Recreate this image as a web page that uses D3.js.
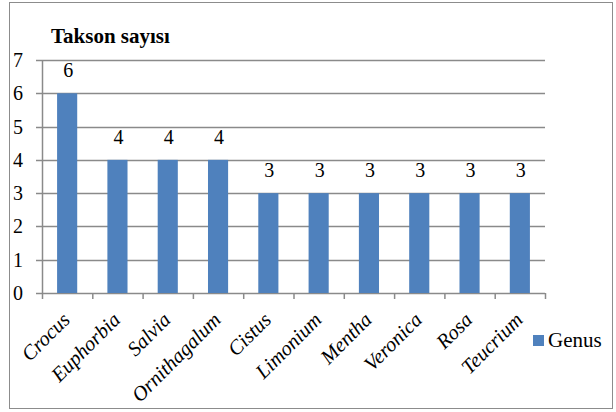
<!DOCTYPE html>
<html>
<head>
<meta charset="utf-8">
<script src="https://cdn.jsdelivr.net/npm/d3@7"></script>
<style>
  body { margin: 0; background: #fff; }
</style>
</head>
<body>
<svg width="616" height="412"></svg>
<script>
var categories = ["Crocus", "Euphorbia", "Salvia", "Ornithagalum", "Cistus",
                  "Limonium", "Mentha", "Veronica", "Rosa", "Teucrium"];
var values = [6, 4, 4, 4, 3, 3, 3, 3, 3, 3];
var yTicks = [0, 1, 2, 3, 4, 5, 6, 7];

var serif = "Liberation Serif";
var svg = d3.select("svg");

// outer frame
svg.append("rect")
  .attr("x", 9.5).attr("y", 2.5)
  .attr("width", 603).attr("height", 406)
  .attr("fill", "none")
  .attr("stroke", "#8c8c8c");

var x = d3.scaleBand()
  .domain(categories)
  .range([42, 545])
  .paddingInner(0.6)
  .paddingOuter(0.3);

var xb = d3.scaleBand().domain(categories).range([42, 545]);

var y = d3.scaleLinear()
  .domain([0, 7])
  .range([293, 60]);

// gridlines
svg.append("g").selectAll("line")
  .data(yTicks)
  .enter().append("line")
  .attr("x1", 36).attr("x2", 545)
  .attr("y1", function(d) { return Math.round(y(d)) + 0.5; })
  .attr("y2", function(d) { return Math.round(y(d)) + 0.5; })
  .attr("stroke", "#8a8a8a")
  .attr("stroke-width", 1.5);

// y axis line
svg.append("line")
  .attr("x1", 42.5).attr("x2", 42.5)
  .attr("y1", y(7)).attr("y2", y(0))
  .attr("stroke", "#8a8a8a").attr("stroke-width", 1.5);

// category ticks
svg.append("g").selectAll("line")
  .data(categories.concat(["end"]))
  .enter().append("line")
  .attr("x1", function(d, i) { return 42.5 + i * xb.step(); })
  .attr("x2", function(d, i) { return 42.5 + i * xb.step(); })
  .attr("y1", y(0)).attr("y2", y(0) + 6)
  .attr("stroke", "#8a8a8a").attr("stroke-width", 1.5);

// y labels
svg.append("g").selectAll("text")
  .data(yTicks)
  .enter().append("text")
  .attr("x", 18)
  .attr("y", function(d) { return y(d); })
  .attr("dy", "0.35em")
  .attr("text-anchor", "middle")
  .attr("font-family", serif)
  .attr("font-size", 20)
  .text(function(d) { return d; });

// bars
svg.append("g").selectAll("rect")
  .data(values)
  .enter().append("rect")
  .attr("x", function(d, i) { return x(categories[i]); })
  .attr("width", x.bandwidth())
  .attr("y", function(d) { return y(d); })
  .attr("height", function(d) { return y(0) - y(d); })
  .attr("fill", "#4f81bd");

// value labels
svg.append("g").selectAll("text")
  .data(values)
  .enter().append("text")
  .attr("x", function(d, i) { return x(categories[i]) + x.bandwidth() / 2 + 1; })
  .attr("y", function(d) { return y(d) - 16; })
  .attr("text-anchor", "middle")
  .attr("font-family", serif)
  .attr("font-size", 20)
  .text(function(d) { return d; });

// x labels
svg.append("g").selectAll("text")
  .data(categories)
  .enter().append("text")
  .attr("transform", function(d) {
    return "translate(" + (x(d) + x.bandwidth() / 2 + 4) + "," + 321 + ") rotate(-45)";
  })
  .attr("text-anchor", "end")
  .attr("font-family", serif)
  .attr("font-size", 20.5)
  .attr("font-style", "italic")
  .text(function(d) { return d; });

// title
svg.append("text")
  .attr("x", 51).attr("y", 43)
  .attr("font-family", serif)
  .attr("font-size", 21)
  .attr("font-weight", "bold")
  .text("Takson sayısı");

// legend
svg.append("rect")
  .attr("x", 533).attr("y", 335)
  .attr("width", 11).attr("height", 11)
  .attr("fill", "#4f81bd");
svg.append("text")
  .attr("x", 548).attr("y", 347)
  .attr("font-family", serif)
  .attr("font-size", 21)
  .text("Genus");
</script>
</body>
</html>
